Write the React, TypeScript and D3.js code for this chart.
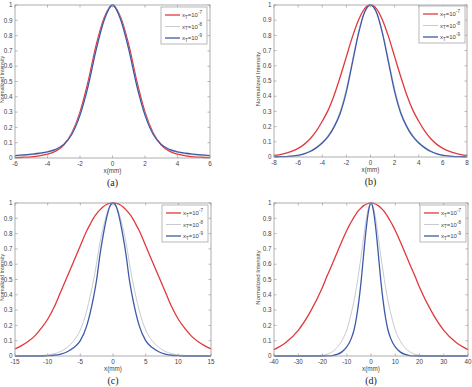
import React from "react";
import * as d3 from "d3";

// Half-profiles (intensity vs |x|); each beam profile is symmetric about x = 0.
const xsA = [0, 0.5, 1, 1.5, 2, 2.5, 3, 3.5, 4, 4.5, 5, 5.5, 6];
const redA = [1, 0.92, 0.74, 0.5, 0.3, 0.165, 0.085, 0.045, 0.025, 0.014, 0.008, 0.005, 0.003];
const grayA = [1, 0.91, 0.715, 0.475, 0.285, 0.16, 0.088, 0.053, 0.036, 0.026, 0.02, 0.016, 0.013];
const blueA = [1, 0.905, 0.71, 0.47, 0.28, 0.155, 0.088, 0.056, 0.04, 0.031, 0.025, 0.02, 0.016];

const xsB = [0, 0.5, 1, 1.5, 2, 2.5, 3, 3.5, 4, 4.5, 5, 5.5, 6, 6.5, 7, 7.5, 8];
const redB = [1, 0.975, 0.9, 0.79, 0.66, 0.53, 0.41, 0.31, 0.235, 0.17, 0.12, 0.083, 0.057, 0.038, 0.025, 0.016, 0.01];
const grayB = [1, 0.955, 0.82, 0.635, 0.45, 0.305, 0.21, 0.145, 0.1, 0.066, 0.041, 0.024, 0.013, 0.007, 0.004, 0.002, 0.001];
const blueB = [1, 0.95, 0.81, 0.62, 0.43, 0.29, 0.2, 0.135, 0.092, 0.06, 0.036, 0.02, 0.011, 0.006, 0.003, 0.002, 0.001];

const xsC = [0, 0.5, 1, 1.5, 2, 2.5, 3, 3.5, 4, 5, 6, 7, 8, 9, 10, 11, 12, 13, 14, 15];
const redC = [1, 0.997, 0.99, 0.975, 0.955, 0.93, 0.9, 0.86, 0.82, 0.72, 0.62, 0.52, 0.42, 0.32, 0.24, 0.18, 0.13, 0.095, 0.068, 0.047];
const grayC = [1, 0.98, 0.92, 0.84, 0.74, 0.61, 0.49, 0.39, 0.3, 0.17, 0.1, 0.057, 0.03, 0.015, 0.007, 0.003, 0.001, 0, 0, 0];
const blueC = [1, 0.975, 0.9, 0.79, 0.66, 0.5, 0.38, 0.28, 0.2, 0.1, 0.055, 0.028, 0.013, 0.005, 0.002, 0, 0, 0, 0, 0];

const xsD = [0, 1, 2, 3, 4, 5, 6, 7, 8, 9, 10, 12, 14, 16, 18, 20, 25, 30, 35, 40];
const redD = [1, 0.998, 0.992, 0.983, 0.969, 0.953, 0.933, 0.908, 0.881, 0.852, 0.82, 0.75, 0.675, 0.6, 0.527, 0.45, 0.29, 0.168, 0.09, 0.042];
const grayD = [1, 0.97, 0.89, 0.78, 0.66, 0.55, 0.45, 0.36, 0.29, 0.225, 0.17, 0.1, 0.055, 0.027, 0.012, 0.005, 0.001, 0, 0, 0];
const blueD = [1, 0.95, 0.83, 0.67, 0.5, 0.36, 0.25, 0.17, 0.12, 0.085, 0.06, 0.027, 0.01, 0.003, 0.001, 0, 0, 0, 0, 0];

const yTicks = [0, 0.1, 0.2, 0.3, 0.4, 0.5, 0.6, 0.7, 0.8, 0.9, 1];
const xTicksA = [-6, -4, -2, 0, 2, 4, 6];
const xTicksB = [-8, -6, -4, -2, 0, 2, 4, 6, 8];
const xTicksC = [-15, -10, -5, 0, 5, 10, 15];
const xTicksD = [-40, -30, -20, -10, 0, 10, 20, 30, 40];
const exponents = ["-7", "-8", "-9"];
const captions = ["(a)", "(b)", "(c)", "(d)"];

const RED = "#e2383c";
const GRAY = "#c9cad0";
const BLUE = "#3d5aa8";
const AXIS = "#9a9a9a";
const TEXT = "#444";

type Panel = {
  xs: number[];
  series: number[][];
  xTicks: number[];
  box: { l: number; r: number; t: number; b: number };
  caption: string;
  legend: { x: number; y: number };
  yLabelX: number;
  yLabelSize: number;
};

const panels: Panel[] = [
  { xs: xsA, series: [redA, grayA, blueA], xTicks: xTicksA, box: { l: 15, r: 210, t: 5, b: 158 }, caption: captions[0], legend: { x: 161, y: 7 }, yLabelX: 4, yLabelSize: 5.2 },
  { xs: xsB, series: [redB, grayB, blueB], xTicks: xTicksB, box: { l: 274, r: 467, t: 5, b: 157 }, caption: captions[1], legend: { x: 419, y: 6 }, yLabelX: 260, yLabelSize: 6 },
  { xs: xsC, series: [redC, grayC, blueC], xTicks: xTicksC, box: { l: 15, r: 211, t: 203, b: 356 }, caption: captions[2], legend: { x: 162, y: 205 }, yLabelX: 4, yLabelSize: 5.2 },
  { xs: xsD, series: [redD, grayD, blueD], xTicks: xTicksD, box: { l: 274, r: 468, t: 203, b: 356 }, caption: captions[3], legend: { x: 420, y: 205 }, yLabelX: 260, yLabelSize: 6 },
];

const styles = [
  { color: RED, width: 1.3 },
  { color: GRAY, width: 1.0 },
  { color: BLUE, width: 1.3 },
];

function mirror(xs: number[], ys: number[]): [number, number][] {
  const pts: [number, number][] = [];
  for (let i = xs.length - 1; i > 0; i--) pts.push([-xs[i], ys[i]]);
  for (let i = 0; i < xs.length; i++) pts.push([xs[i], ys[i]]);
  return pts;
}

function PanelView({ p }: { p: Panel }) {
  const { l, r, t, b } = p.box;
  const xMax = p.xTicks[p.xTicks.length - 1];
  const x = d3.scaleLinear().domain([-xMax, xMax]).range([l, r]);
  const y = d3.scaleLinear().domain([0, 1]).range([b, t]);
  const line = d3
    .line<[number, number]>()
    .x((d) => x(d[0]))
    .y((d) => y(d[1]))
    .curve(d3.curveMonotoneX);
  const font = "'Liberation Sans', Arial, sans-serif";
  const tk = 2.5;
  const lg = p.legend;
  const lw = 46;
  const lh = 37;
  return (
    <g>
      <rect x={l} y={t} width={r - l} height={b - t} fill="#fff" />
      <clipPath id={`clip-${p.caption}`}>
        <rect x={l} y={t - 2} width={r - l} height={b - t + 2} />
      </clipPath>
      <g clipPath={`url(#clip-${p.caption})`}>
        {p.series.map((s, i) => (
          <path
            key={i}
            d={line(mirror(p.xs, s)) || ""}
            fill="none"
            stroke={styles[i].color}
            strokeWidth={styles[i].width}
          />
        ))}
      </g>
      <rect x={l} y={t} width={r - l} height={b - t} fill="none" stroke={AXIS} strokeWidth={0.8} />
      {p.xTicks.map((v) => (
        <g key={`x${v}`}>
          <line x1={x(v)} x2={x(v)} y1={b} y2={b - tk} stroke={AXIS} strokeWidth={0.7} />
          <line x1={x(v)} x2={x(v)} y1={t} y2={t + tk} stroke={AXIS} strokeWidth={0.7} />
          <text x={x(v)} y={b + 8} fontSize={6.3} fontFamily={font} fill={TEXT} textAnchor="middle">
            {v}
          </text>
        </g>
      ))}
      {yTicks.map((v) => (
        <g key={`y${v}`}>
          <line x1={l} x2={l + tk} y1={y(v)} y2={y(v)} stroke={AXIS} strokeWidth={0.7} />
          <line x1={r} x2={r - tk} y1={y(v)} y2={y(v)} stroke={AXIS} strokeWidth={0.7} />
          <text x={l - 2.5} y={y(v) + 2.2} fontSize={6.3} fontFamily={font} fill={TEXT} textAnchor="end">
            {v}
          </text>
        </g>
      ))}
      <text x={(l + r) / 2} y={b + 14.5} fontSize={6.3} fontFamily={font} fill={TEXT} textAnchor="middle">
        x(mm)
      </text>
      <text
        transform={`translate(${p.yLabelX},${(t + b) / 2 - 2}) rotate(-90)`}
        fontSize={p.yLabelSize}
        fontFamily={font}
        fill={TEXT}
        textAnchor="middle"
      >
        Normalized Intensity
      </text>
      <text x={(l + r) / 2} y={b + 28} fontSize={10} fontFamily="'Liberation Serif', 'Times New Roman', serif" fill="#222" textAnchor="middle">
        {p.caption}
      </text>
      <rect x={lg.x} y={lg.y} width={lw} height={lh} fill="#fff" stroke={AXIS} strokeWidth={0.7} />
      {styles.map((s, i) => {
        const ry = lg.y + 8 + i * 11.5;
        return (
          <g key={`lg${i}`}>
            <line x1={lg.x + 4} x2={lg.x + 19} y1={ry} y2={ry} stroke={s.color} strokeWidth={s.width} />
            <text x={lg.x + 21} y={ry + 2} fontSize={6} fontFamily={font} fill={TEXT}>
              x
              <tspan fontSize={4.5} dy={1.8}>T</tspan>
              <tspan dy={-1.8}>=10</tspan>
              <tspan fontSize={4.5} dy={-2.6}>{exponents[i]}</tspan>
            </text>
          </g>
        );
      })}
    </g>
  );
}

export default function App() {
  return (
    <svg
      width={472}
      height={387}
      viewBox="0 0 472 387"
      style={{ position: "absolute", left: 0, top: 0, background: "#fff" }}
    >
      <rect width={472} height={387} fill="#fff" />
      {panels.map((p) => (
        <PanelView key={p.caption} p={p} />
      ))}
    </svg>
  );
}
